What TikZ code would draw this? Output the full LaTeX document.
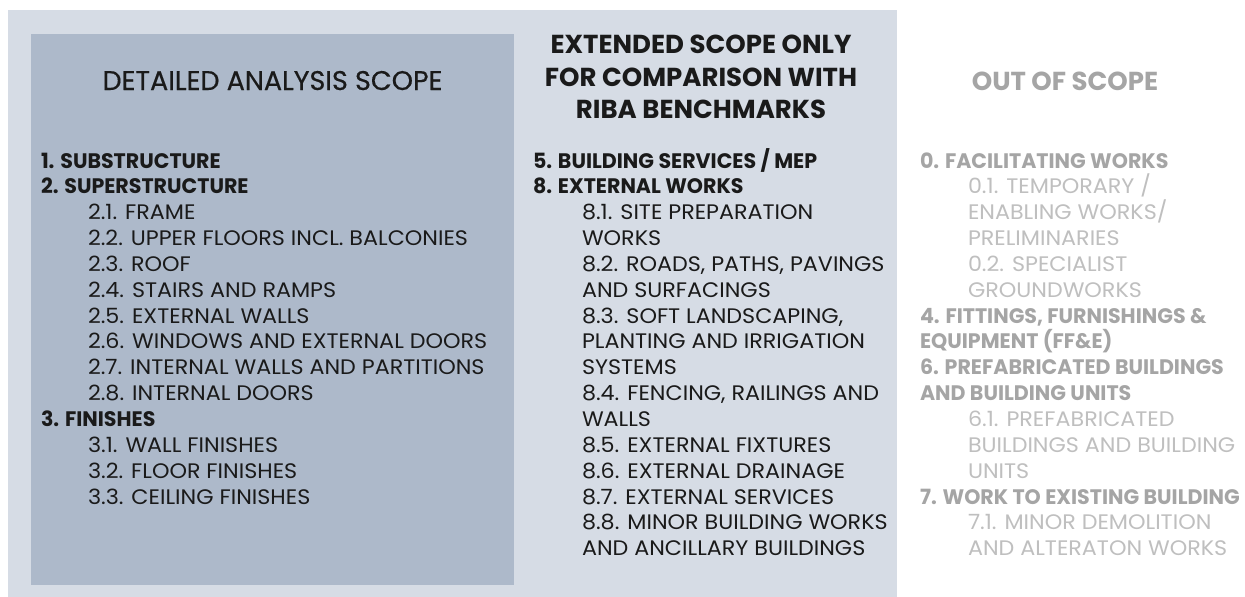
\documentclass[tikz,border=0pt]{standalone}
\usepackage{fontspec}
\setmainfont{Poppins}
\newfontfamily\subfont[FakeStretch=1.06]{Poppins}
\newfontfamily\headfont[FakeStretch=0.98]{Poppins}
\newfontfamily\titlefont[FakeBold=0.5]{Poppins}
\definecolor{outerbg}{HTML}{D6DCE5}
\definecolor{innerbg}{HTML}{ADB9CA}
\definecolor{bodytxt}{HTML}{1A1A1A}
\definecolor{graybold}{HTML}{A5A5A5}
\definecolor{graylight}{HTML}{BFBFBF}
\newcommand\rowline[5]{\node[#2] (#1) at (#3, {168+25.85*#4}) {#5};}
\begin{document}
\begin{tikzpicture}[x=1pt,y=-1pt,
  every node/.style={inner sep=0pt, outer sep=0pt},
  head/.style={anchor=base west, text=bodytxt, font=\headfont\fontsize{21}{25}\selectfont\bfseries},
  sub/.style={anchor=base west, text=bodytxt, font=\subfont\fontsize{21}{25}\selectfont},
  ghead/.style={head, text=graybold},
  gsub/.style={sub, text=graylight},
  title/.style={anchor=base, text=bodytxt, font=\titlefont\fontsize{27}{32}\selectfont},
  btitle/.style={anchor=base, text=bodytxt, font=\fontsize{26}{32}\selectfont\bfseries}
]
\useasboundingbox (0,0) rectangle (1245,597);
\fill[white] (0,0) rectangle (1245,597);
\fill[outerbg] (8,10) rectangle (897,597);
\fill[innerbg] (31,34) rectangle (514,585);
% titles
\node[title] (t1) at (272.5,90) {DETAILED ANALYSIS SCOPE};
\node[btitle] (t2a) at (701,53) {EXTENDED SCOPE ONLY};
\node[btitle] (t2b) at (701,86) {FOR COMPARISON WITH};
\node[btitle] (t2c) at (701,118) {RIBA BENCHMARKS};
\node[btitle, text=graybold] (t3) at (1065,90) {OUT OF SCOPE};
% column 1
\rowline{a0}{head}{41}{0}{1. SUBSTRUCTURE}
\rowline{a1}{head}{41}{1}{2. SUPERSTRUCTURE}
\rowline{a2}{sub}{88}{2}{2.1. FRAME}
\rowline{a3}{sub}{88}{3}{2.2. UPPER FLOORS INCL. BALCONIES}
\rowline{a4}{sub}{88}{4}{2.3. ROOF}
\rowline{a5}{sub}{88}{5}{2.4. STAIRS AND RAMPS}
\rowline{a6}{sub}{88}{6}{2.5. EXTERNAL WALLS}
\rowline{a7}{sub}{88}{7}{2.6. WINDOWS AND EXTERNAL DOORS}
\rowline{a8}{sub}{88}{8}{2.7. INTERNAL WALLS AND PARTITIONS}
\rowline{a9}{sub}{88}{9}{2.8. INTERNAL DOORS}
\rowline{a10}{head}{41}{10}{3. FINISHES}
\rowline{a11}{sub}{88}{11}{3.1. WALL FINISHES}
\rowline{a12}{sub}{88}{12}{3.2. FLOOR FINISHES}
\rowline{a13}{sub}{88}{13}{3.3. CEILING FINISHES}
% column 2
\rowline{b0}{head}{533}{0}{5. BUILDING SERVICES / MEP}
\rowline{b1}{head}{533}{1}{8. EXTERNAL WORKS}
\rowline{b2}{sub}{582}{2}{8.1. SITE PREPARATION}
\rowline{b3}{sub}{582}{3}{WORKS}
\rowline{b4}{sub}{582}{4}{8.2. ROADS, PATHS, PAVINGS}
\rowline{b5}{sub}{582}{5}{AND SURFACINGS}
\rowline{b6}{sub}{582}{6}{8.3. SOFT LANDSCAPING,}
\rowline{b7}{sub}{582}{7}{PLANTING AND IRRIGATION}
\rowline{b8}{sub}{582}{8}{SYSTEMS}
\rowline{b9}{sub}{582}{9}{8.4. FENCING, RAILINGS AND}
\rowline{b10}{sub}{582}{10}{WALLS}
\rowline{b11}{sub}{582}{11}{8.5. EXTERNAL FIXTURES}
\rowline{b12}{sub}{582}{12}{8.6. EXTERNAL DRAINAGE}
\rowline{b13}{sub}{582}{13}{8.7. EXTERNAL SERVICES}
\rowline{b14}{sub}{582}{14}{8.8. MINOR BUILDING WORKS}
\rowline{b15}{sub}{582}{15}{AND ANCILLARY BUILDINGS}
% column 3
\rowline{c0}{ghead}{920}{0}{0. FACILITATING WORKS}
\rowline{c1}{gsub}{968}{1}{0.1. TEMPORARY /}
\rowline{c2}{gsub}{968}{2}{ENABLING WORKS/}
\rowline{c3}{gsub}{968}{3}{PRELIMINARIES}
\rowline{c4}{gsub}{968}{4}{0.2. SPECIALIST}
\rowline{c5}{gsub}{968}{5}{GROUNDWORKS}
\rowline{c6}{ghead}{920}{6}{4. FITTINGS, FURNISHINGS \&}
\rowline{c7}{ghead}{920}{7}{EQUIPMENT (FF\&E)}
\rowline{c8}{ghead}{920}{8}{6. PREFABRICATED BUILDINGS}
\rowline{c9}{ghead}{920}{9}{AND BUILDING UNITS}
\rowline{c10}{gsub}{968}{10}{6.1. PREFABRICATED}
\rowline{c11}{gsub}{968}{11}{BUILDINGS AND BUILDING}
\rowline{c12}{gsub}{968}{12}{UNITS}
\rowline{c13}{ghead}{920}{13}{7. WORK TO EXISTING BUILDING}
\rowline{c14}{gsub}{968}{14}{7.1. MINOR DEMOLITION}
\rowline{c15}{gsub}{968}{15}{AND ALTERATON WORKS}
\end{tikzpicture}
\end{document}
